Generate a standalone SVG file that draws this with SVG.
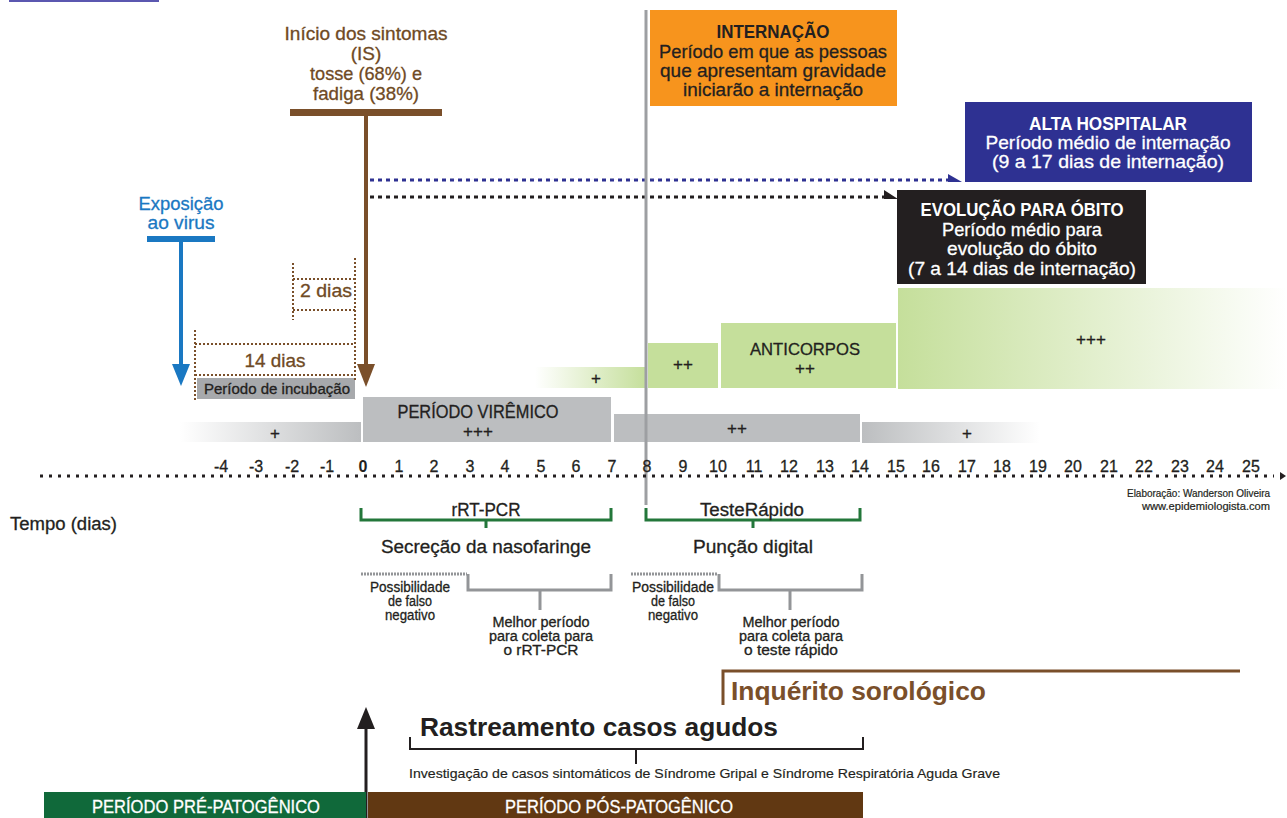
<svg xmlns="http://www.w3.org/2000/svg" width="1287" height="818" viewBox="0 0 1287 818">
<style>
text{font-family:"Liberation Sans Narrow","Liberation Sans",Arial,sans-serif;stroke-width:0.3;}
.c{text-anchor:middle;}
.b{font-weight:bold;stroke-width:0;}
.brown{fill:#6f4a24;stroke:#6f4a24;}
.dk{fill:#231f20;stroke:#231f20;}
.w{fill:#ffffff;stroke:#ffffff;}
.bl{fill:#1a78c2;stroke:#1a78c2;}
.dotb{stroke:#7a4f2a;stroke-width:2;stroke-dasharray:2 2;fill:none;}
.gb{stroke:#23773a;stroke-width:3;fill:none;}
.gr{stroke:#939598;stroke-width:3;fill:none;}
</style>
<defs>
<linearGradient id="gl" x1="0" x2="1" y1="0" y2="0"><stop offset="0" stop-color="#bcbec0" stop-opacity="0"/><stop offset="1" stop-color="#bcbec0"/></linearGradient>
<linearGradient id="gr" x1="0" x2="1" y1="0" y2="0"><stop offset="0" stop-color="#bcbec0"/><stop offset="1" stop-color="#bcbec0" stop-opacity="0"/></linearGradient>
<linearGradient id="vl" x1="0" x2="1" y1="0" y2="0"><stop offset="0" stop-color="#c5df9b" stop-opacity="0"/><stop offset="1" stop-color="#c5df9b"/></linearGradient>
<linearGradient id="vr" x1="0" x2="1" y1="0" y2="0"><stop offset="0" stop-color="#c5df9b"/><stop offset="1" stop-color="#c5df9b" stop-opacity="0"/></linearGradient>
</defs>
<rect x="9" y="0" width="150" height="2" fill="#5b57b0"/>

<g id="inicio">
<text class="c brown" x="366" y="40" font-size="19" textLength="163" lengthAdjust="spacingAndGlyphs">Início dos sintomas</text>
<text class="c brown" x="366" y="60" font-size="19">(IS)</text>
<text class="c brown" x="366" y="80" font-size="19" textLength="112" lengthAdjust="spacingAndGlyphs">tosse (68%) e</text>
<text class="c brown" x="366" y="100" font-size="19" textLength="106" lengthAdjust="spacingAndGlyphs">fadiga (38%)</text>
<rect x="290" y="109" width="152" height="7" fill="#7a4f2a"/>
</g>

<g id="exposicao">
<text class="c bl" x="181" y="210" font-size="19" textLength="85" lengthAdjust="spacingAndGlyphs">Exposição</text>
<text class="c bl" x="181" y="229" font-size="19" textLength="67" lengthAdjust="spacingAndGlyphs">ao virus</text>
<rect x="147" y="236" width="68" height="6" fill="#1a78c2"/>
</g>

<g id="internacao">
<rect x="650" y="10" width="247" height="96" fill="#f7941d"/>
<text class="c b dk" x="773" y="38" font-size="18" textLength="113" lengthAdjust="spacingAndGlyphs">INTERNAÇÃO</text>
<text class="c dk" x="773" y="58" font-size="19" textLength="228" lengthAdjust="spacingAndGlyphs">Período em que as pessoas</text>
<text class="c dk" x="773" y="77" font-size="19" textLength="226" lengthAdjust="spacingAndGlyphs">que apresentam gravidade</text>
<text class="c dk" x="773" y="96" font-size="19" textLength="180" lengthAdjust="spacingAndGlyphs">iniciarão a internação</text>
</g>

<g id="alta">
<rect x="965" y="102" width="287" height="80" fill="#2e3192"/>
<text class="c b w" x="1108" y="130" font-size="18" textLength="158" lengthAdjust="spacingAndGlyphs">ALTA HOSPITALAR</text>
<text class="c w" x="1108" y="149" font-size="19" textLength="245" lengthAdjust="spacingAndGlyphs">Período médio de internação</text>
<text class="c w" x="1108" y="168" font-size="19" textLength="232" lengthAdjust="spacingAndGlyphs">(9 a 17 dias de internação)</text>
</g>

<g id="obito">
<rect x="897" y="190" width="249" height="94" fill="#231f20"/>
<text class="c b w" x="1022" y="216" font-size="18" textLength="203" lengthAdjust="spacingAndGlyphs">EVOLUÇÃO PARA ÓBITO</text>
<text class="c w" x="1022" y="236" font-size="19" textLength="160" lengthAdjust="spacingAndGlyphs">Período médio para</text>
<text class="c w" x="1022" y="255" font-size="19" textLength="150" lengthAdjust="spacingAndGlyphs">evolução do óbito</text>
<text class="c w" x="1022" y="275" font-size="19" textLength="228" lengthAdjust="spacingAndGlyphs">(7 a 14 dias de internação)</text>
</g>

<g id="anticorpos">
<rect x="535" y="367" width="111" height="21" fill="url(#vl)"/>
<text class="c dk" x="596" y="384" font-size="17">+</text>
<rect x="648" y="343" width="70" height="45" fill="#c5df9b"/>
<text class="c dk" x="683" y="370" font-size="17">++</text>
<rect x="721" y="323" width="175" height="65" fill="#c5df9b"/>
<text class="c dk" x="805" y="355" font-size="17" textLength="110" lengthAdjust="spacingAndGlyphs">ANTICORPOS</text>
<text class="c dk" x="805" y="374" font-size="17">++</text>
<rect x="898" y="288" width="389" height="101" fill="url(#vr)"/>
<text class="c dk" x="1091" y="345" font-size="17">+++</text>
</g>

<g id="viremia">
<rect x="180" y="422" width="181" height="20" fill="url(#gl)"/>
<text class="c dk" x="275" y="439" font-size="17">+</text>
<rect x="363" y="397" width="248" height="45" fill="#bcbec0"/>
<text class="c dk" x="478" y="418" font-size="18" textLength="161" lengthAdjust="spacingAndGlyphs">PERÍODO VIRÊMICO</text>
<text class="c dk" x="478" y="437" font-size="17">+++</text>
<rect x="614" y="414" width="246" height="28" fill="#bcbec0"/>
<text class="c dk" x="737" y="434" font-size="17">++</text>
<rect x="862" y="422" width="178" height="21" fill="url(#gr)"/>
<text class="c dk" x="967" y="439" font-size="17">+</text>
</g>

<g id="incubacao">
<rect x="197" y="378" width="158" height="21" fill="#a7a9ac"/>
<text class="c dk" x="277" y="394" font-size="14" textLength="146" lengthAdjust="spacingAndGlyphs">Período de incubação</text>
<text class="c brown" x="275" y="367" font-size="19" textLength="61" lengthAdjust="spacingAndGlyphs">14 dias</text>
<text class="c brown" x="326" y="297" font-size="19" textLength="52" lengthAdjust="spacingAndGlyphs">2 dias</text>
</g>

<g id="connectors">
<path class="dotb" d="M293 263V320M293 279H355M293 310H355M355 258V380M195 330V400M195 344H355M195 375H355"/>
<line x1="181" y1="242" x2="181" y2="366" stroke="#1a78c2" stroke-width="4"/>
<polygon points="172,364 190,364 181,386" fill="#1a78c2"/>
<line x1="366" y1="116" x2="366" y2="366" stroke="#7a4f2a" stroke-width="4"/>
<polygon points="357,364 375,364 366,387" fill="#7a4f2a"/>
<line x1="370" y1="180" x2="948" y2="180" stroke="#2e3192" stroke-width="3" stroke-dasharray="4 4"/>
<polygon points="948,174 962,182 948,182" fill="#2e3192"/>
<line x1="370" y1="197" x2="886" y2="197" stroke="#231f20" stroke-width="3" stroke-dasharray="4 4"/>
<polygon points="884,190 898,199 884,199" fill="#231f20"/>
<line x1="646" y1="10" x2="646" y2="505" stroke="#9d9fa2" stroke-width="3"/>
<line x1="40" y1="476" x2="1274" y2="476" stroke="#231f20" stroke-width="3" stroke-dasharray="3 6"/>
<polygon points="1280,472 1286,476 1280,480" fill="#231f20"/>
<path class="gb" d="M361 508V520H611V508M486 520V528"/>
<path class="gb" d="M646 508V520H860V508M753 520V528"/>
<line x1="361" y1="574" x2="467" y2="574" stroke="#939598" stroke-width="3" stroke-dasharray="2 1"/>
<path class="gr" d="M468 574V590H611V574M540 590V610"/>
<line x1="631" y1="574" x2="717" y2="574" stroke="#939598" stroke-width="3" stroke-dasharray="2 1"/>
<path class="gr" d="M719 574V590H862V574M790 590V610"/>
<path d="M723 705V671H1240" stroke="#7a4f2a" stroke-width="3" fill="none"/>
<line x1="366" y1="818" x2="366" y2="726" stroke="#231f20" stroke-width="3"/>
<polygon points="357,729 375,729 366,707" fill="#231f20"/>
<path d="M410 737V749H863V737M636 749V764" stroke="#231f20" stroke-width="2" fill="none"/>
</g>

<g id="eixo">
<g class="c dk" font-size="16">
<text x="221" y="472">-4</text><text x="256" y="472">-3</text><text x="292" y="472">-2</text><text x="327" y="472">-1</text>
<text x="363" y="472" class="b">0</text><text x="399" y="472">1</text><text x="434" y="472">2</text><text x="470" y="472">3</text>
<text x="505" y="472">4</text><text x="541" y="472">5</text><text x="576" y="472">6</text><text x="612" y="472">7</text>
<text x="647" y="472">8</text><text x="683" y="472">9</text><text x="718" y="472">10</text><text x="754" y="472">11</text>
<text x="789" y="472">12</text><text x="825" y="472">13</text><text x="860" y="472">14</text><text x="896" y="472">15</text>
<text x="931" y="472">16</text><text x="967" y="472">17</text><text x="1002" y="472">18</text><text x="1038" y="472">19</text>
<text x="1073" y="472">20</text><text x="1109" y="472">21</text><text x="1144" y="472">22</text><text x="1180" y="472">23</text>
<text x="1215" y="472">24</text><text x="1251" y="472">25</text>
</g>
<text x="1127" y="497" font-size="10.5" class="dk" style="stroke-width:0.2" textLength="143" lengthAdjust="spacingAndGlyphs">Elaboração: Wanderson Oliveira</text>
<text x="1142" y="510" font-size="10.5" class="dk" style="stroke-width:0.2" textLength="128" lengthAdjust="spacingAndGlyphs">www.epidemiologista.com</text>
<text x="10" y="530" font-size="18" class="dk" textLength="107" lengthAdjust="spacingAndGlyphs">Tempo (dias)</text>
</g>

<g id="rtpcr">
<text class="c dk" x="486" y="516" font-size="18" textLength="69" lengthAdjust="spacingAndGlyphs">rRT-PCR</text>
<text class="c dk" x="486" y="553" font-size="18" textLength="210" lengthAdjust="spacingAndGlyphs">Secreção da nasofaringe</text>
<text class="c dk" x="410" y="592" font-size="14" textLength="80" lengthAdjust="spacingAndGlyphs">Possibilidade</text>
<text class="c dk" x="410" y="606" font-size="14" textLength="44" lengthAdjust="spacingAndGlyphs">de falso</text>
<text class="c dk" x="410" y="620" font-size="14" textLength="50" lengthAdjust="spacingAndGlyphs">negativo</text>
<text class="c dk" x="541" y="627" font-size="14" textLength="97" lengthAdjust="spacingAndGlyphs">Melhor período</text>
<text class="c dk" x="541" y="641" font-size="14" textLength="104" lengthAdjust="spacingAndGlyphs">para coleta para</text>
<text class="c dk" x="541" y="655" font-size="14" textLength="75" lengthAdjust="spacingAndGlyphs">o rRT-PCR</text>
</g>

<g id="teste">
<text class="c dk" x="752" y="516" font-size="18" textLength="104" lengthAdjust="spacingAndGlyphs">TesteRápido</text>
<text class="c dk" x="753" y="553" font-size="18" textLength="120" lengthAdjust="spacingAndGlyphs">Punção digital</text>
<text class="c dk" x="673" y="592" font-size="14" textLength="82" lengthAdjust="spacingAndGlyphs">Possibilidade</text>
<text class="c dk" x="673" y="606" font-size="14" textLength="44" lengthAdjust="spacingAndGlyphs">de falso</text>
<text class="c dk" x="673" y="620" font-size="14" textLength="50" lengthAdjust="spacingAndGlyphs">negativo</text>
<text class="c dk" x="791" y="627" font-size="14" textLength="97" lengthAdjust="spacingAndGlyphs">Melhor período</text>
<text class="c dk" x="791" y="641" font-size="14" textLength="104" lengthAdjust="spacingAndGlyphs">para coleta para</text>
<text class="c dk" x="791" y="655" font-size="14" textLength="94" lengthAdjust="spacingAndGlyphs">o teste rápido</text>
</g>

<g id="inquerito">
<text x="731" y="700" font-size="26" class="b" fill="#7a4f2a" textLength="255" lengthAdjust="spacingAndGlyphs">Inquérito sorológico</text>
</g>

<g id="rastreamento">
<text x="420" y="736" font-size="26" class="b dk" textLength="358" lengthAdjust="spacingAndGlyphs">Rastreamento casos agudos</text>
<text x="409" y="778" font-size="13" class="dk" style="stroke-width:0.15" textLength="591" lengthAdjust="spacingAndGlyphs">Investigação de casos sintomáticos de Síndrome Gripal e Síndrome Respiratória Aguda Grave</text>
</g>

<g id="periodos">
<rect x="44" y="792" width="322" height="26" fill="#10693a"/>
<text class="c w" x="206" y="813" font-size="18" textLength="228" lengthAdjust="spacingAndGlyphs">PERÍODO PRÉ-PATOGÊNICO</text>
<rect x="368" y="792" width="495" height="26" fill="#613812"/>
<text class="c w" x="619" y="813" font-size="18" textLength="228" lengthAdjust="spacingAndGlyphs">PERÍODO PÓS-PATOGÊNICO</text>
</g>
</svg>
